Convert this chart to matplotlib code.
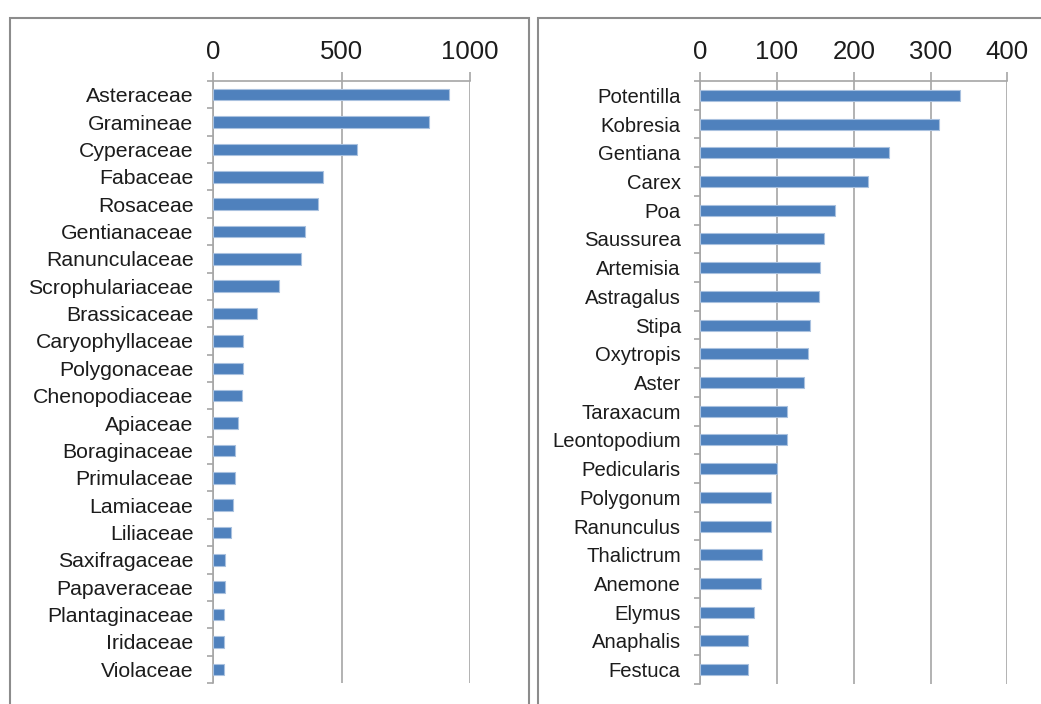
import matplotlib
matplotlib.use('Agg')
import matplotlib.pyplot as plt
from matplotlib.patches import Rectangle
import numpy as np

plt.rcParams['font.family'] = ['Liberation Sans', 'DejaVu Sans']

families = ['Asteraceae', 'Gramineae', 'Cyperaceae', 'Fabaceae', 'Rosaceae',
            'Gentianaceae', 'Ranunculaceae', 'Scrophulariaceae', 'Brassicaceae',
            'Caryophyllaceae', 'Polygonaceae', 'Chenopodiaceae', 'Apiaceae',
            'Boraginaceae', 'Primulaceae', 'Lamiaceae', 'Liliaceae',
            'Saxifragaceae', 'Papaveraceae', 'Plantaginaceae', 'Iridaceae',
            'Violaceae']
family_counts = [920, 840, 560, 429, 408, 359, 344, 258, 172, 118, 118, 113,
                 98, 87, 87, 77, 71, 48, 48, 41, 41, 41]

genera = ['Potentilla', 'Kobresia', 'Gentiana', 'Carex', 'Poa', 'Saussurea',
          'Artemisia', 'Astragalus', 'Stipa', 'Oxytropis', 'Aster', 'Taraxacum',
          'Leontopodium', 'Pedicularis', 'Polygonum', 'Ranunculus', 'Thalictrum',
          'Anemone', 'Elymus', 'Anaphalis', 'Festuca']
genus_counts = [339, 311, 246, 218, 175, 161, 156, 155, 143, 140, 135, 113,
                113, 100, 92, 92, 81, 79, 70, 62, 62]

W, H = 1041, 704
fig = plt.figure(figsize=(W / 100, H / 100), dpi=100)

grid_c = '#a6a6a6'
bar_c = '#4f81bd'
edge_c = '#a9c1df'
text_c = '#1c1c1c'


def panel(rect, names, vals, xmax, xticks, bar_h, lab_size):
    ax = fig.add_axes(rect)
    n = len(names)
    y = np.arange(n)
    ax.barh(y, vals, height=bar_h, color=bar_c, edgecolor=edge_c, linewidth=0.8, zorder=3)
    ax.set_xlim(0, xmax)
    ax.set_ylim(n - 0.5, -0.5)
    ax.xaxis.tick_top()
    ax.set_xticks(xticks)
    ax.tick_params(axis='x', direction='out', length=6.5, width=1.2, color=grid_c,
                   labelsize=18.5, pad=6, labelcolor=text_c)
    ax.set_yticks(y)
    ax.set_yticklabels(names)
    ax.set_yticks(np.arange(n + 1) - 0.5, minor=True)
    ax.tick_params(axis='y', which='major', length=0, labelsize=lab_size, pad=14,
                   labelcolor=text_c)
    ax.tick_params(axis='y', which='minor', direction='out', length=4.3, width=1.2,
                   color=grid_c)
    ax.grid(axis='x', color=grid_c, linewidth=1.2, zorder=0)
    for s in ['right', 'bottom']:
        ax.spines[s].set_visible(False)
    for s in ['left', 'top']:
        ax.spines[s].set_color(grid_c)
        ax.spines[s].set_linewidth(1.2)
    return ax


panel([213 / W, 1 - 683 / H, (470 - 213) / W, (683 - 81) / H],
      families, family_counts, 1000, [0, 500, 1000], 0.42, 15.3)
panel([700.3 / W, 1 - 684 / H, (1007.3 - 700.3) / W, (684 - 81) / H],
      genera, genus_counts, 400, [0, 100, 200, 300, 400], 0.38, 14.6)

# grey frames round the two panels
for x0, x1 in [(9.5, 528.5), (537.5, 1120)]:
    fig.add_artist(Rectangle((x0 / W, -0.2), (x1 - x0) / W, 1.2 - 17.5 / H,
                             transform=fig.transFigure, fill=False,
                             edgecolor='#8c8c8c', linewidth=1.5))

fig.savefig('out.png', dpi=100, facecolor='white')
